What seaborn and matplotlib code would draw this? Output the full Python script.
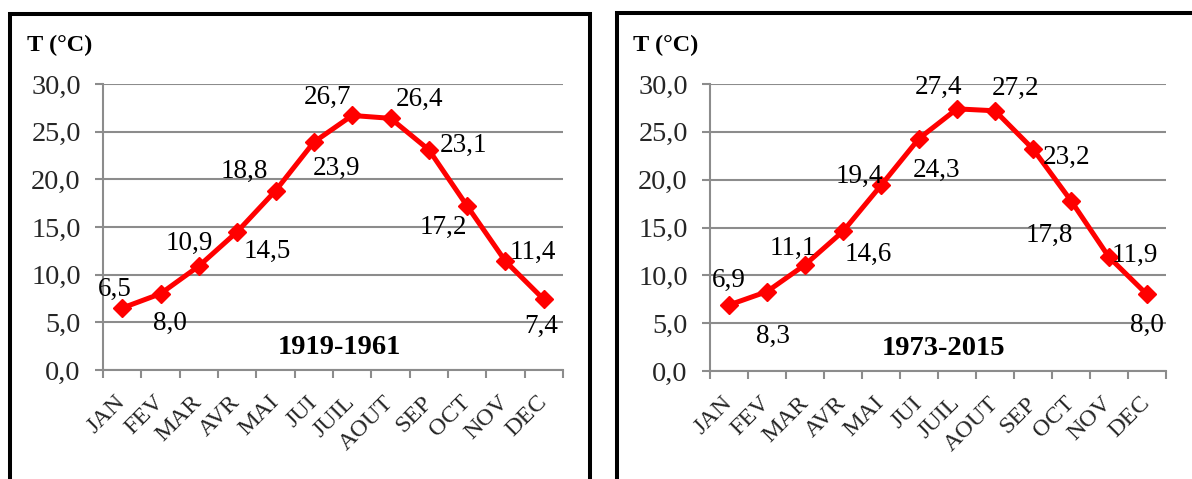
import numpy as np
import pandas as pd
import matplotlib
matplotlib.use("Agg")
import matplotlib.pyplot as plt
import seaborn as sns
from matplotlib.patches import Rectangle
from matplotlib.ticker import FixedLocator, FuncFormatter

# Monthly mean temperatures (°C) for two reference periods
months = ["JAN", "FEV", "MAR", "AVR", "MAI", "JUI", "JUIL", "AOUT", "SEP", "OCT", "NOV", "DEC"]
temp_1919_1961 = [6.5, 8.0, 10.9, 14.5, 18.8, 23.9, 26.7, 26.4, 23.1, 17.2, 11.4, 7.4]
temp_1973_2015 = [6.9, 8.3, 11.1, 14.6, 19.4, 24.3, 27.4, 27.2, 23.2, 17.8, 11.9, 8.0]
periods = ["1919-1961", "1973-2015"]
y_ticks = [0, 5, 10, 15, 20, 25, 30]

# value-label placement around each point (pixels, up is positive)
label_offsets_a = [(-7, 19), (9, -30), (-10, 23), (30, -20), (-31, 19), (23, -26),
                   (-25, 18), (29, 19), (35, 4), (-24, -21), (27, 9), (-3, -27)]
label_offsets_b = [(0, 25), (6, -45), (-12, 16), (25, -23), (-22, 9), (18, -32),
                   (-18, 21), (21, 22), (34, -8), (-22, -35), (26, 2), (0, -31)]

sns.set_theme(style="white")
plt.rcParams["font.family"] = ["Liberation Serif", "DejaVu Serif"]

W, H = 1192, 479
GRAY = "#8c8c8c"
fig = plt.figure(figsize=(W / 100, H / 100), dpi=100)
fig.patch.set_facecolor("white")


def px_rect(x0, y_top, x1, y_bot):
    return [x0 / W, 1 - y_bot / H, (x1 - x0) / W, (y_bot - y_top) / H]


def comma(v, _=None):
    return f"{v:.1f}".replace(".", ",")


def draw_panel(ax, values, period, offsets):
    df = pd.DataFrame({"idx": np.arange(len(months)), "month": months, "temp": values})
    sns.lineplot(data=df, x="idx", y="temp", ax=ax, color="#ff0000", lw=3.6,
                 marker="D", markersize=9, markeredgecolor="#ff0000",
                 markeredgewidth=1, clip_on=False, zorder=3)
    ax.set_xlim(-0.5, len(months) - 0.5)
    ax.set_ylim(0, 30)
    ax.set_xlabel("")
    ax.set_ylabel("")

    # y axis
    ax.yaxis.set_major_locator(FixedLocator(y_ticks))
    ax.yaxis.set_major_formatter(FuncFormatter(comma))
    ax.tick_params(axis="y", which="major", length=6, width=1.5, color=GRAY,
                   pad=10, labelsize=20.3, left=True)
    ax.yaxis.grid(True, color=GRAY, lw=1.5)
    ax.xaxis.grid(False)
    ax.set_axisbelow(True)

    # x axis: labels at category centres, tick marks between categories
    ax.xaxis.set_major_locator(FixedLocator(np.arange(len(months))))
    ax.set_xticklabels(months, rotation=45, ha="right", va="center",
                       rotation_mode="anchor")
    ax.xaxis.set_minor_locator(FixedLocator(np.arange(len(months) + 1) - 0.5))
    ax.tick_params(axis="x", which="major", length=0, pad=21, labelsize=17.5)
    ax.tick_params(axis="x", which="minor", length=6, width=1.5, color=GRAY,
                   bottom=True, direction="out")

    for side in ("top", "right"):
        ax.spines[side].set_visible(False)
    for side in ("left", "bottom"):
        ax.spines[side].set_color(GRAY)
        ax.spines[side].set_linewidth(1.5)

    for i, (v, (dx, dy)) in enumerate(zip(values, offsets)):
        ax.annotate(comma(v), xy=(i, v), xytext=(dx, dy), textcoords="offset pixels",
                    ha="center", va="center", fontsize=19.5, color="black", zorder=4)

    ax.text(0.513, 0.077, period, transform=ax.transAxes, ha="center", va="center",
            fontsize=20.5, fontweight="bold", color="black")


ax1 = fig.add_axes(px_rect(103, 84, 563, 370))
ax2 = fig.add_axes(px_rect(710, 84, 1166, 371))
draw_panel(ax1, temp_1919_1961, periods[0], label_offsets_a)
draw_panel(ax2, temp_1973_2015, periods[1], label_offsets_b)

# unit captions
fig.text(27 / W, 1 - 45 / H, "T (°C)", ha="left", va="center", fontsize=17.5,
         fontweight="bold", color="black")
fig.text(633 / W, 1 - 45 / H, "T (°C)", ha="left", va="center", fontsize=17.5,
         fontweight="bold", color="black")

# panel frames
fig.add_artist(Rectangle((9.5 / W, -0.1), (590 - 9.5) / W, 1 - 14 / H + 0.1,
                         transform=fig.transFigure, fill=False, ec="black", lw=2.9))
fig.add_artist(Rectangle((616.5 / W, -0.1), 1.2 - 616.5 / W, 1 - 13.5 / H + 0.1,
                         transform=fig.transFigure, fill=False, ec="black", lw=2.9))

fig.savefig("out.png", dpi=100, facecolor="white")
